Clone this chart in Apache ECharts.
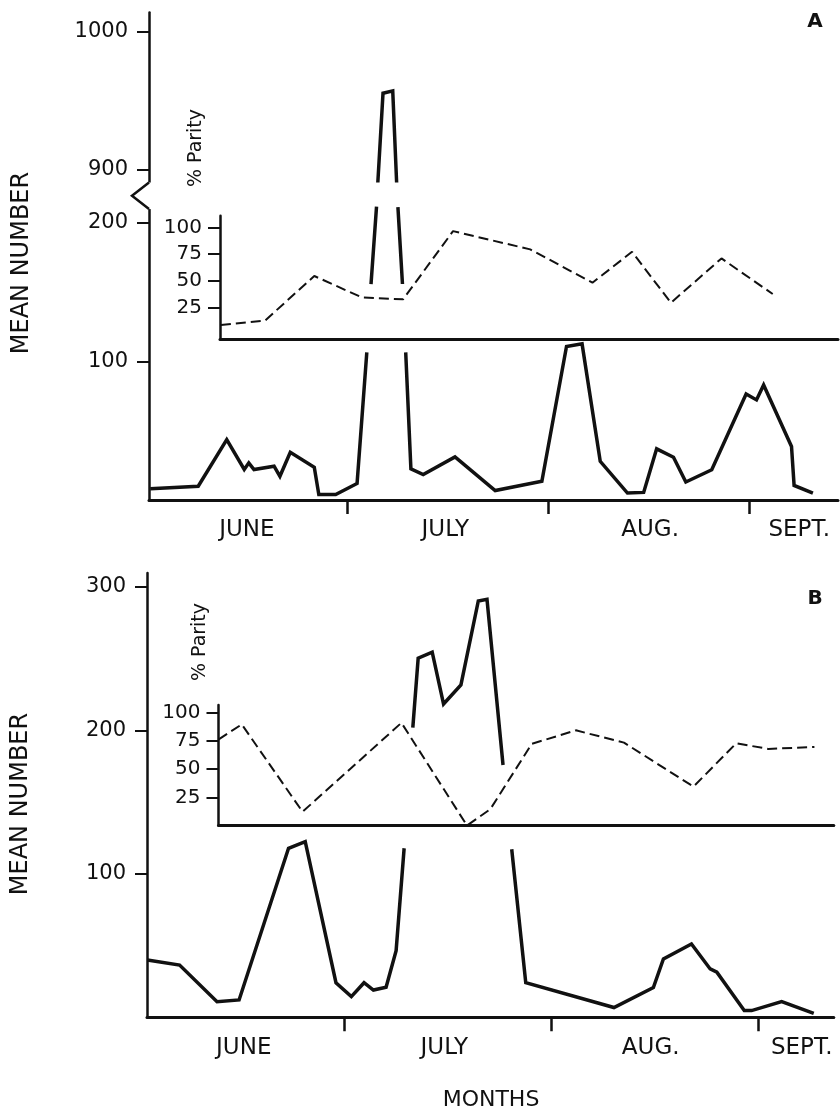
<!DOCTYPE html>
<html>
<head>
<meta charset="utf-8">
<script src="https://cdn.jsdelivr.net/npm/echarts@6.0.0/dist/echarts.min.js"></script>
<style>
  html, body { margin: 0; padding: 0; background: #fff; }
  #main { width: 840px; height: 1117px; }
</style>
</head>
<body>
<div id="main"></div>
<script>
// days counted from June 1 (July 1 = 30, Aug 1 = 61, Sept 1 = 92)
var monthNames = ['JUNE', 'JULY', 'AUG.', 'SEPT.'];
var monthTicks = [30, 61, 92];
var monthLabelA = [14.5, 45.1, 76.7, 99.7];
var monthLabelB = [15.0, 45.0, 75.9, 98.5];

var yTicksA = [100, 200, 900, 1000];
var yTicksB = [100, 200, 300];
var parityTicks = [25, 50, 75, 100];

// panel A, mean number (null = pen lifted)
var daysA = [-0.4, 7.0, 11.4, 14.1, 14.8, 15.6, 18.7, 19.6, 21.2, 24.9, 25.6, 28.2, 31.5, 33.0,
  33.3, 33.65, 34.5, 34.6, 34.7, 35.5, 37.0, 37.6, 37.7, 37.8, 38.5, 38.8, 39.0, 39.8, 41.7,
  46.6, 52.8, 60.0, 63.8, 66.2, 69.0, 73.2, 75.7, 77.7, 80.3, 82.2, 86.2, 91.5, 93.1, 94.2,
  98.5, 98.9, 101.8];
var meanA = [8.1, 9.9, 43.6, 22.0, 26.8, 22.0, 24.4, 17.1, 34.4, 23.6, 4.0, 4.0, 11.9, 106.5,
  null, 155.8, 211.7, null, 891, 955.4, 957.1, 891, null, 211.2, 155.8, null, 106.5, 22.5, 18.4,
  31.1, 6.8, 13.5, 110.7, 112.6, 27.9, 5.0, 5.5, 36.9, 30.8, 13.0, 21.8, 76.5, 72.2, 83.0,
  38.6, 10.5, 5.0];

// panel A, % parity
var pDaysA = [10.5, 17.3, 24.9, 32.2, 38.6, 46.3, 58.2, 67.8, 73.9, 79.9, 87.7, 95.6];
var parityA = [8.4, 12.5, 54.4, 34.4, 32.5, 96.5, 79.4, 48.1, 77.1, 29.3, 70.9, 37.5];

// panel B, mean number
var daysB = [0.57, 5.4, 11.0, 14.3, 21.7, 24.2, 28.8, 31.1, 33.0, 34.4, 36.3, 37.8, 39.0, 39.6,
  40.3, 41.1, 43.2, 44.9, 47.5, 50.1, 51.4, 53.8, 54.4, 55.1, 57.2, 70.4, 76.3, 77.8, 82.0,
  84.8, 85.8, 89.9, 91.0, 95.5, 100.3];
var meanB = [39.9, 36.4, 10.9, 12.1, 117.8, 122.4, 24.1, 14.4, 24.1, 19.0, 20.9, 46.4, 117.8,
  null, 201.8, 250.2, 254.4, 218.3, 231.6, 290.1, 291.3, 175.8, null, 117.1, 24.2, 6.8, 20.7,
  40.6, 51.1, 33.7, 31.4, 4.7, 4.7, 10.9, 2.8];

// panel B, % parity
var pDaysB = [11.25, 14.7, 23.8, 38.6, 48.4, 51.9, 58.1, 64.7, 71.9, 82.3, 88.7, 93.5, 100.4];
var parityB = [76.5, 89.8, 12.2, 91.2, 0, 14.5, 72.5, 84.5, 73.6, 34.5, 73, 68, 69.7];

var INK = '#111';
var FONT = 'DejaVu Sans';

function pairs(xs, ys) {
  return xs.map(function (x, i) { return [x, ys[i]]; });
}

function monthAxis(gridIndex, min, max, labelPos) {
  return {
    type: 'value', gridIndex: gridIndex, min: min, max: max,
    splitLine: { show: false },
    axisLine: { onZero: false, lineStyle: { color: INK, width: 3 } },
    axisTick: { customValues: monthTicks, length: 14, lineStyle: { color: INK, width: 2.5 } },
    axisLabel: {
      customValues: labelPos, margin: 19, color: INK, fontFamily: FONT, fontSize: 23,
      formatter: function (v) {
        var i = labelPos.indexOf(v);
        return i < 0 ? '' : monthNames[i];
      }
    }
  };
}

function hiddenX(gridIndex, min, max) {
  return {
    type: 'value', gridIndex: gridIndex, min: min, max: max,
    splitLine: { show: false },
    axisLine: { onZero: false, lineStyle: { color: INK, width: 3 } },
    axisTick: { show: false },
    axisLabel: { show: false }
  };
}

function countAxis(gridIndex, min, max, ticks, size, extra) {
  var ax = {
    type: 'value', gridIndex: gridIndex, min: min, max: max,
    splitLine: { show: false },
    axisLine: { show: true, onZero: false, lineStyle: { color: INK, width: 2.5 } },
    axisTick: { show: true, customValues: ticks, length: 12, lineStyle: { color: INK, width: 2 } },
    axisLabel: {
      customValues: ticks, margin: size > 20 ? 21 : 18, color: INK, fontFamily: FONT, fontSize: size,
      formatter: function (v) { return String(v); }
    }
  };
  return Object.assign(ax, extra || {});
}

function meanSeries(axisIndex, data) {
  return {
    type: 'line', xAxisIndex: axisIndex, yAxisIndex: axisIndex, data: data,
    symbol: 'none', connectNulls: false, z: 3,
    lineStyle: { color: INK, width: 3.5, join: 'miter' }
  };
}

function paritySeries(axisIndex, data) {
  return {
    type: 'line', xAxisIndex: axisIndex, yAxisIndex: axisIndex, data: data,
    symbol: 'none', z: 3,
    lineStyle: { color: INK, width: 2, type: [10, 5] }
  };
}

function label(text, x, y, size, rotate, bold) {
  return {
    type: 'text', x: x, y: y, rotation: rotate ? Math.PI / 2 : 0, z: 10,
    style: {
      text: text, fill: INK, fontFamily: FONT, fontSize: size,
      fontWeight: bold ? 'bold' : 'normal',
      textAlign: 'center', textVerticalAlign: 'middle'
    }
  };
}

var chart = echarts.init(document.getElementById('main'), null, { renderer: 'canvas' });

var option = {
  animation: false,
  backgroundColor: '#fff',
  grid: [
    { left: 149, width: 689, top: 12, height: 488 },
    { left: 220, width: 618, top: 215.7, height: 123.6 },
    { left: 147, width: 686.8, top: 573, height: 444.3 },
    { left: 218.5, width: 615.3, top: 705, height: 120.5 }
  ],
  xAxis: [
    monthAxis(0, -0.59, 105.67, monthLabelA),
    hiddenX(1, 10.36, 105.67),
    monthAxis(2, 0.52, 103.3, monthLabelB),
    hiddenX(3, 11.22, 103.3)
  ],
  yAxis: [
    countAxis(0, 0, 1014, yTicksA, 21, {
      breaks: [{ start: 212, end: 891, gap: 17 }],
      breakArea: { show: false }
    }),
    countAxis(1, -5, 111, parityTicks, 20),
    countAxis(2, 0, 309.6, yTicksB, 21),
    countAxis(3, 0, 107, parityTicks, 20)
  ],
  series: [
    meanSeries(0, pairs(daysA, meanA)),
    paritySeries(1, pairs(pDaysA, parityA)),
    meanSeries(2, pairs(daysB, meanB)),
    paritySeries(3, pairs(pDaysB, parityB))
  ],
  graphic: [
    label('MEAN NUMBER', 22, 263, 24, true),
    label('MEAN NUMBER', 21, 804, 24, true),
    label('% Parity', 196, 148, 19, true),
    label('% Parity', 200, 642, 19, true),
    label('A', 815, 22, 20, false, true),
    label('B', 815, 599, 20, false, true),
    label('MONTHS', 491, 1100, 22, false)
  ]
};

chart.setOption(option);

// zigzag on the broken axis of panel A
var yHi = chart.convertToPixel({ yAxisIndex: 0 }, 891);
var yLo = chart.convertToPixel({ yAxisIndex: 0 }, 212);
var x0 = chart.convertToPixel({ xAxisIndex: 0 }, -0.59);
option.graphic.push({
  type: 'rect', z: 20,
  shape: { x: x0 - 3, y: yHi, width: 6, height: yLo - yHi + 3 },
  style: { fill: '#fff' }
});
option.graphic.push({
  type: 'polyline', z: 21,
  shape: { points: [[x0, yHi], [x0 - 17, (yHi + yLo) / 2 + 1.5], [x0, yLo + 3]] },
  style: { stroke: INK, lineWidth: 2.5, fill: null }
});
chart.setOption({ graphic: option.graphic });
</script>
</body>
</html>
